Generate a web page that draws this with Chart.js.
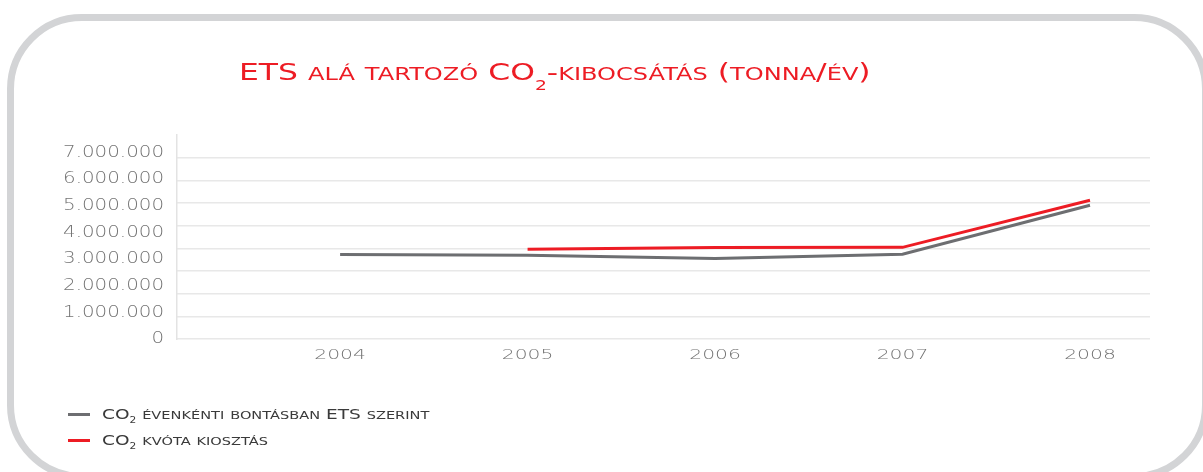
<!DOCTYPE html>
<html>
<head>
<meta charset="utf-8">
<script src="https://cdn.jsdelivr.net/npm/chart.js@4.4.1/dist/chart.umd.min.js"></script>
<style>
html,body{margin:0;padding:0;background:#fff;}
body{width:1203px;height:472px;position:relative;overflow:hidden;font-family:"DejaVu Sans",sans-serif;}
#frame{position:absolute;left:7px;top:14px;width:1202px;height:466px;box-sizing:border-box;border:7px solid #d3d4d6;border-radius:75px;}
#wrap{position:absolute;left:0;top:0;width:1203px;height:472px;}
#title{position:absolute;left:239px;top:57px;color:#ed1c24;font-size:23.5px;white-space:nowrap;line-height:30px;transform-origin:left top;}
#title .sc{font-size:18px;}
#title sub{font-size:14px;vertical-align:-10px;line-height:0;}
#legend{position:absolute;left:68px;top:401px;}
.item{display:flex;align-items:center;height:26px;white-space:nowrap;}
.sw{width:22px;height:3px;margin-right:12px;flex:none;}
.lt{display:inline-block;font-size:14px;color:#3a3a3a;transform-origin:left center;}
.lt .sc{font-size:11px;}
.lt sub{font-size:8px;vertical-align:-4px;line-height:0;}
</style>
</head>
<body>
<div id="frame"></div>
<div id="wrap"><canvas id="c" width="1203" height="472"></canvas></div>
<div id="title"></div>
<div id="legend"></div>
<script>
const chartTitle = 'ETS alá tartozó CO₂-kibocsátás (tonna/év)';
const years = [2004, 2005, 2006, 2007, 2008];
const emissions = [3170000, 3140000, 3020000, 3180000, 5020000];
const allocation = [null, 3370000, 3430000, 3440000, 5210000];
const yTickValues = [0, 1000000, 2000000, 3000000, 4000000, 5000000, 6000000, 7000000];
const seriesNames = ['CO₂ évenkénti bontásban ETS szerint', 'CO₂ kvóta kiosztás'];
const seriesColors = ['#6d6e71', '#ed1c24'];

function fmt(v){ return String(v).replace(/\B(?=(\d{3})+(?!\d))/g, '.'); }
function smallCaps(s){
  return s.replace(/[a-záéíóöőúüű]+/g, m => '<span class="sc">' + m.toUpperCase() + '</span>')
          .replace('₂', '<sub>2</sub>');
}

// draw the scale's own label items, stretched horizontally to imitate the wide typeface
const stretchPlugin = {
  id: 'stretch',
  beforeDraw(chart){
    const ctx = chart.ctx;
    const stretch = {x: 1.4, y: 1.24};
    Object.keys(stretch).forEach(id => {
      const s = chart.scales[id];
      if (s && !s._patched) {
        s.drawLabels = function(area){
          const items = this.getLabelItems(area);
          ctx.save();
          items.forEach(it => {
            const o = it.options || {};
            const tr = o.translation || it.translation || [0, 0];
            const font = it.font || o.font;
            ctx.save();
            ctx.translate(tr[0], tr[1]);
            ctx.scale(stretch[id], 1);
            ctx.font = font.string;
            ctx.fillStyle = o.color;
            ctx.textAlign = o.textAlign;
            ctx.textBaseline = o.textBaseline;
            ctx.fillText(it.label, 0, it.textOffset || 0);
            ctx.restore();
          });
          ctx.restore();
        };
        s._patched = true;
      }
    });
  }
};

const chart = new Chart(document.getElementById('c'), {
  type: 'line',
  data: {
    datasets: [
      {label: seriesNames[0], data: years.map((y,i)=>({x:y, y:emissions[i]})), borderColor: seriesColors[0], backgroundColor: seriesColors[0], borderWidth: 3, pointRadius: 0, tension: 0, yAxisID: 'y'},
      {label: seriesNames[1], data: years.map((y,i)=>({x:y, y:allocation[i]})), borderColor: seriesColors[1], backgroundColor: seriesColors[1], borderWidth: 3, pointRadius: 0, tension: 0, yAxisID: 'y'}
    ]
  },
  options: {
    responsive: false,
    animation: false,
    layout: {padding: {left: 0, top: 135, right: 53, bottom: 103}},
    plugins: {legend: {display: false}, tooltip: {enabled: false}},
    scales: {
      x: {
        type: 'linear', min: 2003.13, max: 2008.32,
        afterBuildTicks: s => { s.ticks = years.map(v => ({value: v})); },
        grid: {display: false, drawTicks: false},
        border: {display: false},
        ticks: {callback: v => String(v), color: '#747474', font: {size: 14.5, family: 'DejaVu Sans', weight: '200'}, padding: 8, maxRotation: 0, autoSkip: false},
        afterFit: s => { s.height = 30; }
      },
      y: {
        position: 'left', min: 0, max: 7657000,
        afterBuildTicks: s => { s.ticks = yTickValues.map(v => ({value: v})); },
        grid: {display: false, drawTicks: false},
        border: {display: true, color: '#e3e3e3', width: 1.5},
        ticks: {callback: v => fmt(v), color: '#747474', font: {size: 16, family: 'DejaVu Sans', weight: '200'}, padding: 13, autoSkip: false},
        afterFit: s => { s.width = 177; }
      },
      yg: {
        position: 'left', min: 0, max: 9,
        ticks: {display: false, stepSize: 1},
        grid: {color: c => (c.tick && c.tick.value === 9) ? 'rgba(0,0,0,0)' : '#e8e8e8', lineWidth: 1.5, drawTicks: false},
        border: {display: false},
        afterFit: s => { s.width = 0; }
      }
    }
  },
  plugins: [stretchPlugin]
});

// title (real text, small caps built from the string, stretched to the reference width)
const t = document.getElementById('title');
t.innerHTML = smallCaps(chartTitle);
t.style.transform = 'scaleX(' + (631 / t.offsetWidth) + ')';

// HTML legend built from the chart's datasets
const lg = document.getElementById('legend');
let legendScale = null;
chart.data.datasets.forEach((ds, i) => {
  const it = document.createElement('div'); it.className = 'item';
  const sw = document.createElement('span'); sw.className = 'sw'; sw.style.background = ds.borderColor;
  const tx = document.createElement('span'); tx.className = 'lt';
  tx.innerHTML = smallCaps(ds.label);
  it.appendChild(sw); it.appendChild(tx); lg.appendChild(it);
  if (legendScale === null) legendScale = 327 / tx.offsetWidth;
  tx.style.transform = 'scaleX(' + legendScale + ')';
});
</script>
</body>
</html>
